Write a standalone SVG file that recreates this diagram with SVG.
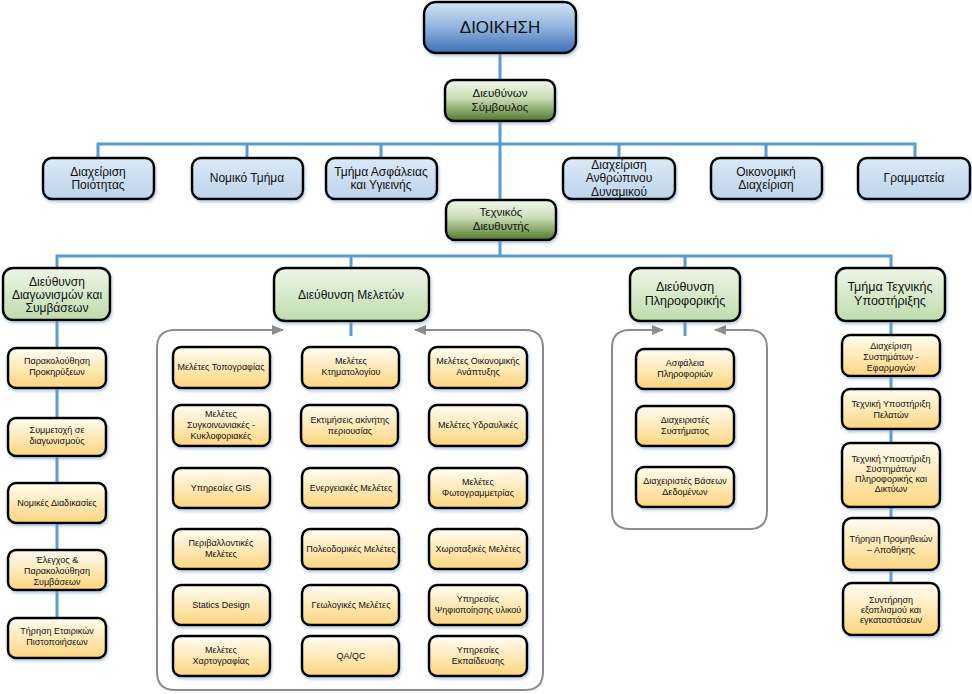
<svg xmlns="http://www.w3.org/2000/svg" width="972" height="694" viewBox="0 0 972 694">
<defs>
<linearGradient id="gTop" x1="0" y1="0" x2="0" y2="1"><stop offset="0" stop-color="#d4e4f6"/><stop offset="0.5" stop-color="#8fb3de"/><stop offset="1" stop-color="#3d6fb4"/></linearGradient>
<linearGradient id="gBlue" x1="0" y1="0" x2="0" y2="1"><stop offset="0" stop-color="#dce9f6"/><stop offset="1" stop-color="#bcd4ec"/></linearGradient>
<linearGradient id="gDkGreen" x1="0" y1="0" x2="0" y2="1"><stop offset="0" stop-color="#f4f8ee"/><stop offset="0.45" stop-color="#c9dcb4"/><stop offset="1" stop-color="#4e7a2a"/></linearGradient>
<linearGradient id="gGreen" x1="0" y1="0" x2="0" y2="1"><stop offset="0" stop-color="#eef6e8"/><stop offset="1" stop-color="#bedcab"/></linearGradient>
<linearGradient id="gYel" x1="0" y1="0" x2="0" y2="1"><stop offset="0" stop-color="#fffdf3"/><stop offset="1" stop-color="#fcd57e"/></linearGradient>
<filter id="sh" x="-10%" y="-10%" width="130%" height="140%"><feDropShadow dx="1" dy="2" stdDeviation="1.5" flood-color="#7d9cc4" flood-opacity="0.55"/></filter>
<marker id="ga" markerUnits="userSpaceOnUse" markerWidth="12" markerHeight="10" refX="11" refY="5" orient="auto-start-reverse"><path d="M0,0 L12,5 L0,10 z" fill="#8c8c8c"/></marker>
</defs>
<style>
.n{stroke:#000;stroke-width:2.5;filter:url(#sh)}
.top{fill:url(#gTop)}
.b{fill:url(#gBlue)}
.dg{fill:url(#gDkGreen)}
.g{fill:url(#gGreen)}
.y{fill:url(#gYel)}
text{font-family:"Liberation Sans",Arial,sans-serif;text-anchor:middle;fill:#111}
.t16{font-size:17px}
.t12{font-size:12px}
.t11{font-size:11.5px}
.t13{font-size:12.5px}
.t9{font-size:9px}
.c{fill:none;stroke:#5b9bd5;stroke-width:3}
.ct{fill:none;stroke:#8c8c8c;stroke-width:2;marker-start:url(#ga);marker-end:url(#ga)}
</style>
<rect width="972" height="694" fill="#fff"/>
<g id="connectors">
<path class="c" d="M500,53 V200"/>
<path class="c" d="M98,158 V144 H915 V158 M247,144 V158 M381,144 V158 M619,144 V158 M766,144 V158"/>
<path class="c" d="M500,240 V256 M57,268 V256 H891 V268 M351,256 V268 M685,256 V268"/>
<path class="c" d="M57,320 V618"/>
<path class="c" d="M351,321 V336"/>
<path class="c" d="M685,321 V336"/>
<path class="c" d="M891,321 V583"/>
<path class="ct" d="M283,330 H175 Q157,330 157,348 V672 Q157,690 175,690 H525 Q543,690 543,672 V348 Q543,330 525,330 H415"/>
<path class="ct" d="M663,330 H630 Q612,330 612,348 V511 Q612,529 630,529 H749 Q767,529 767,511 V348 Q767,330 749,330 H715"/>
</g>
<g id="dioikisi"><rect class="n top" x="424" y="2" width="152" height="51" rx="12"/><text class="t16" x="500" y="33">ΔΙΟΙΚΗΣΗ</text></g>
<g id="ceo"><rect class="n dg" x="445" y="80" width="110" height="41" rx="9"/><text class="t11" x="500" y="97">Διευθύνων</text><text class="t11" x="500" y="111">Σύμβουλος</text></g>
<g id="quality"><rect class="n b" x="43" y="158" width="111" height="41" rx="9"/><text class="t12" x="98" y="176">Διαχείριση</text><text class="t12" x="98" y="189">Ποιότητας</text></g>
<g id="legal"><rect class="n b" x="192" y="158" width="111" height="41" rx="9"/><text class="t12" x="247" y="182">Νομικό Τμήμα</text></g>
<g id="safety"><rect class="n b" x="326" y="158" width="111" height="41" rx="9"/><text class="t12" x="381" y="176">Τμήμα Ασφάλειας</text><text class="t12" x="381" y="189">και Υγιεινής</text></g>
<g id="hr"><rect class="n b" x="563" y="158" width="112" height="41" rx="9"/><text class="t12" x="619" y="169">Διαχείριση</text><text class="t12" x="619" y="182">Ανθρώπινου</text><text class="t12" x="619" y="196">Δυναμικού</text></g>
<g id="finance"><rect class="n b" x="711" y="158" width="111" height="41" rx="9"/><text class="t12" x="766" y="176">Οικονομική</text><text class="t12" x="766" y="189">Διαχείριση</text></g>
<g id="secretariat"><rect class="n b" x="858" y="158" width="112" height="41" rx="9"/><text class="t12" x="914" y="182">Γραμματεία</text></g>
<g id="techdir"><rect class="n dg" x="446" y="200" width="110" height="40" rx="9"/><text class="t11" x="501" y="216">Τεχνικός</text><text class="t11" x="501" y="230">Διευθυντής</text></g>
<g id="tenders"><rect class="n g" x="3" y="268" width="107" height="52" rx="10"/><text class="t12" x="57" y="286">Διεύθυνση</text><text class="t12" x="57" y="299">Διαγωνισμών και</text><text class="t12" x="57" y="312">Συμβάσεων</text></g>
<g id="studies"><rect class="n g" x="274" y="268" width="155" height="53" rx="11"/><text class="t12" x="351" y="299">Διεύθυνση Μελετών</text></g>
<g id="it"><rect class="n g" x="630" y="268" width="110" height="53" rx="10"/><text class="t13" x="685" y="291">Διεύθυνση</text><text class="t13" x="685" y="305">Πληροφορικής</text></g>
<g id="techsupport"><rect class="n g" x="836" y="268" width="109" height="53" rx="10"/><text class="t13" x="890" y="291">Τμήμα Τεχνικής</text><text class="t13" x="890" y="305">Υποστήριξης</text></g>
<g id="l1"><rect class="n y" x="8" y="348" width="98" height="40" rx="8"/><text class="t9" x="57" y="364">Παρακολούθηση</text><text class="t9" x="57" y="375">Προκηρύξεων</text></g>
<g id="l2"><rect class="n y" x="8" y="418" width="98" height="38" rx="8"/><text class="t9" x="57" y="433">Συμμετοχή σε</text><text class="t9" x="57" y="444">διαγωνισμούς</text></g>
<g id="l3"><rect class="n y" x="8" y="483" width="98" height="40" rx="8"/><text class="t9" x="57" y="506">Νομικές Διαδικασίες</text></g>
<g id="l4"><rect class="n y" x="8" y="550" width="98" height="40" rx="8"/><text class="t9" x="57" y="563">Έλεγχος &amp;</text><text class="t9" x="57" y="574">Παρακολούθηση</text><text class="t9" x="57" y="585">Συμβάσεων</text></g>
<g id="l5"><rect class="n y" x="8" y="618" width="98" height="40" rx="8"/><text class="t9" x="57" y="634">Τήρηση Εταιρικών</text><text class="t9" x="57" y="645">Πιστοποιήσεων</text></g>
<g id="s11"><rect class="n y" x="173" y="347" width="97" height="41" rx="8"/><text class="t9" x="221" y="370">Μελέτες Τοπογραφίας</text></g>
<g id="s12"><rect class="n y" x="302" y="347" width="97" height="41" rx="8"/><text class="t9" x="351" y="364">Μελέτες</text><text class="t9" x="351" y="375">Κτηματολογίου</text></g>
<g id="s13"><rect class="n y" x="429" y="347" width="98" height="41" rx="8"/><text class="t9" x="478" y="364">Μελέτες Οικονομικής</text><text class="t9" x="478" y="375">Ανάπτυξης</text></g>
<g id="s21"><rect class="n y" x="173" y="405" width="97" height="41" rx="8"/><text class="t9" x="221" y="417">Μελέτες</text><text class="t9" x="221" y="428">Συγκοινωνιακές -</text><text class="t9" x="221" y="439">Κυκλοφοριακές</text></g>
<g id="s22"><rect class="n y" x="301" y="405" width="97" height="41" rx="8"/><text class="t9" x="350" y="423">Εκτιμήσεις ακίνητης</text><text class="t9" x="350" y="434">περιουσίας</text></g>
<g id="s23"><rect class="n y" x="429" y="405" width="98" height="41" rx="8"/><text class="t9" x="478" y="428">Μελέτες Υδραυλικές</text></g>
<g id="s31"><rect class="n y" x="173" y="468" width="97" height="40" rx="8"/><text class="t9" x="221" y="491">Υπηρεσίες GIS</text></g>
<g id="s32"><rect class="n y" x="302" y="468" width="97" height="40" rx="8"/><text class="t9" x="351" y="491">Ενεργειακές Μελέτες</text></g>
<g id="s33"><rect class="n y" x="429" y="468" width="98" height="40" rx="8"/><text class="t9" x="478" y="485">Μελέτες</text><text class="t9" x="478" y="496">Φωτογραμμετρίας</text></g>
<g id="s41"><rect class="n y" x="173" y="529" width="97" height="40" rx="8"/><text class="t9" x="221" y="546">Περιβαλλοντικές</text><text class="t9" x="221" y="557">Μελέτες</text></g>
<g id="s42"><rect class="n y" x="302" y="529" width="97" height="40" rx="8"/><text class="t9" x="351" y="552">Πολεοδομικές Μελέτες</text></g>
<g id="s43"><rect class="n y" x="429" y="529" width="98" height="40" rx="8"/><text class="t9" x="478" y="552">Χωροταξικές Μελέτες</text></g>
<g id="s51"><rect class="n y" x="173" y="585" width="97" height="40" rx="8"/><text class="t9" x="221" y="608">Statics Design</text></g>
<g id="s52"><rect class="n y" x="302" y="585" width="97" height="40" rx="8"/><text class="t9" x="351" y="608">Γεωλογικές Μελέτες</text></g>
<g id="s53"><rect class="n y" x="429" y="585" width="98" height="40" rx="8"/><text class="t9" x="478" y="602">Υπηρεσίες</text><text class="t9" x="478" y="613">Ψηφιοποίησης υλικού</text></g>
<g id="s61"><rect class="n y" x="173" y="636" width="97" height="40" rx="8"/><text class="t9" x="221" y="653">Μελέτες</text><text class="t9" x="221" y="664">Χαρτογραφίας</text></g>
<g id="s62"><rect class="n y" x="302" y="636" width="97" height="40" rx="8"/><text class="t9" x="351" y="659">QA/QC</text></g>
<g id="s63"><rect class="n y" x="429" y="636" width="98" height="40" rx="8"/><text class="t9" x="478" y="653">Υπηρεσίες</text><text class="t9" x="478" y="664">Εκπαίδευσης</text></g>
<g id="i1"><rect class="n y" x="636" y="349" width="98" height="40" rx="8"/><text class="t9" x="685" y="366">Ασφάλεια</text><text class="t9" x="685" y="377">Πληροφοριών</text></g>
<g id="i2"><rect class="n y" x="636" y="406" width="98" height="40" rx="8"/><text class="t9" x="685" y="423">Διαχειριστές</text><text class="t9" x="685" y="434">Συστήματος</text></g>
<g id="i3"><rect class="n y" x="636" y="467" width="98" height="40" rx="8"/><text class="t9" x="685" y="484">Διαχειριστές Βάσεων</text><text class="t9" x="685" y="495">Δεδομένων</text></g>
<g id="t1"><rect class="n y" x="842" y="335" width="98" height="41" rx="8"/><text class="t9" x="891" y="349">Διαχείριση</text><text class="t9" x="891" y="360">Συστημάτων -</text><text class="t9" x="891" y="371">Εφαρμογών</text></g>
<g id="t2"><rect class="n y" x="842" y="389" width="98" height="40" rx="8"/><text class="t9" x="891" y="407">Τεχνική Υποστήριξη</text><text class="t9" x="891" y="418">Πελατών</text></g>
<g id="t3"><rect class="n y" x="842" y="443" width="98" height="64" rx="8"/><text class="t9" x="891" y="462">Τεχνική Υποστήριξη</text><text class="t9" x="891" y="472">Συστημάτων</text><text class="t9" x="891" y="482">Πληροφορικής και</text><text class="t9" x="891" y="492">Δικτύων</text></g>
<g id="t4"><rect class="n y" x="843" y="518" width="96" height="52" rx="9"/><text class="t9" x="891" y="542">Τήρηση Προμηθειών</text><text class="t9" x="891" y="553">– Αποθήκης</text></g>
<g id="t5"><rect class="n y" x="843" y="583" width="96" height="52" rx="9"/><text class="t9" x="891" y="603">Συντήρηση</text><text class="t9" x="891" y="613">εξοπλισμού και</text><text class="t9" x="891" y="623">εγκαταστάσεων</text></g>
</svg>
